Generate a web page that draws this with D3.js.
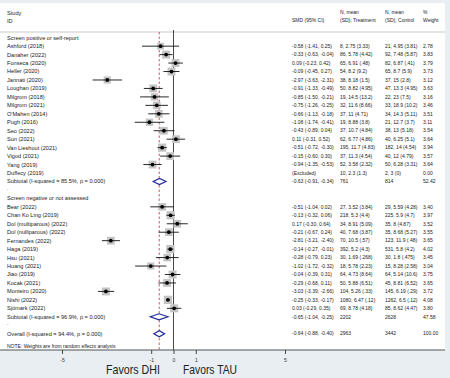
<!DOCTYPE html>
<html>
<head>
<meta charset="utf-8">
<script src="https://cdn.jsdelivr.net/npm/d3@7"></script>
<style>
  body { margin: 0; background: #e8eef1; }
  svg { display: block; font-family: "Liberation Sans", Arial, sans-serif; }
</style>
</head>
<body>
<svg id="chart"></svg>
<script>
var groupNames = ["Screen positive or self-report", "Screen negative or not assessed"];

var studyNames = [
  "Ashford (2018)", "Danaher (2022)", "Fonseca (2020)", "Heller (2020)", "Jannati (2020)",
  "Loughan (2019)", "Milgrom (2018)", "Milgrom (2021)", "O'Mahen (2014)", "Pugh (2016)",
  "Seo (2022)", "Sun (2021)", "Van Lieshout (2021)", "Vigod (2021)", "Yang (2019)", "Duffecy (2019)",
  "Bear (2022)", "Chan Ko Ling (2019)", "Dol (multiparous) (2022)", "Dol (nulliparous) (2022)",
  "Fernandes (2022)", "Haga (2019)", "Hsu (2021)", "Huang (2021)", "Jiao (2019)", "Kocak (2021)",
  "Monteiro (2020)", "Nishi (2022)", "Sjömark (2022)"
];
var studyGroup = [0,0,0,0,0,0,0,0,0,0,0,0,0,0,0,0, 1,1,1,1,1,1,1,1,1,1,1,1,1];

var smd    = [-0.58, -0.33, 0.09, -0.09, -2.97, -0.91, -0.85, -0.75, -0.66, -1.08, -0.43, 0.11, -0.51, -0.15, -0.94, null,
              -0.51, -0.13, 0.17, -0.21, -2.81, -0.14, -0.28, -1.02, -0.04, -0.29, -3.03, -0.25, 0.03];
var ciLow  = [-1.41, -0.63, -0.23, -0.45, -3.63, -1.33, -1.50, -1.26, -1.13, -1.74, -0.89, -0.31, -0.72, -0.60, -1.35, null,
              -1.04, -0.32, -0.30, -0.67, -3.21, -0.27, -0.79, -1.72, -0.39, -0.68, -3.39, -0.33, -0.29];
var ciHigh = [0.25, -0.04, 0.42, 0.27, -2.31, -0.49, -0.21, -0.25, -0.18, -0.41, 0.04, 0.52, -0.30, 0.30, -0.53, null,
              0.02, 0.06, 0.64, 0.24, -2.40, -0.01, 0.23, -0.32, 0.31, 0.11, -2.66, -0.17, 0.35];

var treatment = ["8, 2.75 (3.33)", "86, 5.78 (4.42)", "65, 6.91 (.48)", "54, 8.2 (9.2)", "38, 8.18 (1.5)",
  "50, 8.82 (4.95)", "19, 14.5 (13.2)", "32, 11.6 (8.66)", "37, 11 (4.71)", "19, 8.88 (3.8)",
  "37, 10.7 (4.84)", "62, 6.77 (4.86)", "195, 11.7 (4.83)", "37, 11.3 (4.54)", "52, 3.58 (2.32)", "10, 2.3 (1.3)",
  "27, 3.52 (3.84)", "218, 5.3 (4.4)", "34, 8.91 (5.09)", "40, 7.68 (3.87)", "70, 10.5 (.57)",
  "392, 5.2 (4.3)", "30, 1.69 (.268)", "18, 5.78 (2.23)", "64, 4.73 (8.64)", "50, 5.88 (6.51)",
  "104, 5.26 (.33)", "1080, 6.47 (.12)", "69, 8.78 (4.18)"];
var control = ["21, 4.95 (3.81)", "92, 7.48 (5.87)", "82, 6.87 (.41)", "65, 8.7 (5.9)", "37, 15 (2.8)",
  "47, 13.3 (4.95)", "22, 23 (7.5)", "33, 18.9 (10.2)", "34, 14.3 (5.11)", "21, 12.7 (3.7)",
  "38, 13 (5.18)", "40, 6.25 (5.1)", "182, 14 (4.54)", "40, 12 (4.79)", "50, 6.28 (3.31)", "2, 3 (0)",
  "29, 5.59 (4.28)", "225, 5.9 (4.7)", "35, 8 (4.87)", "35, 8.68 (5.27)", "123, 11.9 (.48)",
  "531, 5.8 (4.2)", "30, 1.8 (.475)", "15, 8.28 (2.58)", "64, 5.14 (10.6)", "45, 8.81 (6.52)",
  "145, 6.19 (.29)", "1262, 6.5 (.12)", "85, 8.62 (4.47)"];
var weight = [2.78, 3.83, 3.79, 3.73, 3.12, 3.63, 3.16, 3.46, 3.51, 3.11, 3.54, 3.64, 3.94, 3.57, 3.64, 0.00,
              3.40, 3.97, 3.52, 3.55, 3.65, 4.02, 3.45, 3.04, 3.75, 3.65, 3.72, 4.08, 3.80];

var summaryLabels = ["Subtotal  (I-squared = 85.5%, p = 0.000)", "Subtotal  (I-squared = 96.9%, p = 0.000)", "Overall  (I-squared = 94.4%, p = 0.000)"];
var summarySmd  = [-0.63, -0.65, -0.64];
var summaryLow  = [-0.91, -1.04, -0.88];
var summaryHigh = [-0.34, -0.25, -0.40];
var summaryTreat = ["761", "2202", "2963"];
var summaryCtrl  = ["814", "2628", "3442"];
var summaryWt    = [52.42, 47.58, 100.00];

var xTicks = [-5, -1, 0, 1, 5];

var W = 450, H = 378;
var fsLabel = 5.6, fsNum = 5;

//Build row list: group header, studies, subtotal, blank ... overall
var rows = [];
groupNames.forEach(function(g, gi){
  rows.push({type: "head", label: g});
  studyNames.forEach(function(n, i){
    if(studyGroup[i] === gi) rows.push({type: "study", i: i});
  });
  rows.push({type: "sum", i: gi});
  rows.push({type: "blank"});
});
rows.push({type: "sum", i: 2});

var x = d3.scaleLinear().domain([-5, 5]).range([62, 285]);
var y = d3.scaleLinear().domain([0, 35]).range([37.7, 333.7]);

var svg = d3.select("#chart").attr("width", W).attr("height", H);

//Card
svg.append("rect").attr("x", 0).attr("y", 3).attr("width", 445).attr("height", 347).attr("fill", "#fff");

function fmt(v){ return v.toFixed(2); }
function ciText(s, l, h){ return fmt(s) + " (" + fmt(l) + ", " + fmt(h) + ")"; }

var txt = svg.append("g").attr("fill", "#222").style("white-space", "pre");

var cols = {label: 7, smd: 292, treat: 340, ctrl: 385, wt: 423};
function put(xp, yp, s, size){
  txt.append("text").attr("x", xp).attr("y", yp).attr("dy", "0.35em")
    .attr("font-size", size || fsLabel).text(s);
}

//Headers
put(cols.label, 12.7, "Study");
put(cols.label, 20.7, "ID");
put(cols.smd, 20.7, "SMD (95% CI)", fsNum);
put(cols.treat, 12.7, "N, mean", fsNum);
put(cols.treat, 20.7, "(SD); Treatment", fsNum);
put(cols.ctrl, 12.7, "N, mean", fsNum);
put(cols.ctrl, 20.7, "(SD); Control", fsNum);
put(cols.wt, 12.7, "%", fsNum);
put(cols.wt, 20.7, "Weight", fsNum);

svg.append("line").attr("x1", 0).attr("x2", 445).attr("y1", 32).attr("y2", 32)
  .attr("stroke", "#bbb").attr("stroke-width", 0.8);

//Reference lines
svg.append("line").attr("x1", x(0)).attr("x2", x(0)).attr("y1", 30).attr("y2", 350)
  .attr("stroke", "#333").attr("stroke-width", 0.9);
svg.append("line").attr("x1", x(summarySmd[2])).attr("x2", x(summarySmd[2])).attr("y1", 32).attr("y2", 350)
  .attr("stroke", "#b03a3a").attr("stroke-width", 0.8).attr("stroke-dasharray", "2.5,2");

var marks = svg.append("g");

rows.forEach(function(r, k){
  var yy = y(k);
  if(r.type === "head"){
    put(cols.label, yy, r.label);
  }
  else if(r.type === "blank"){
    put(cols.label, yy - 2, ".");
  }
  else if(r.type === "study"){
    var i = r.i;
    put(cols.label, yy, studyNames[i]);
    put(cols.treat, yy, treatment[i], fsNum);
    put(cols.ctrl, yy, control[i], fsNum);
    put(cols.wt, yy, fmt(weight[i]), fsNum);
    if(smd[i] === null){
      put(cols.smd, yy, "(Excluded)", fsNum);
      return;
    }
    put(cols.smd, yy, ciText(smd[i], ciLow[i], ciHigh[i]), fsNum);
    var side = 4.1 * Math.sqrt(weight[i]);
    marks.append("rect")
      .attr("x", x(smd[i]) - side / 2).attr("y", yy - side / 2)
      .attr("width", side).attr("height", side)
      .attr("fill", "#c4c4c4");
    marks.append("line")
      .attr("x1", x(ciLow[i])).attr("x2", x(ciHigh[i]))
      .attr("y1", yy).attr("y2", yy)
      .attr("stroke", "#111").attr("stroke-width", 0.9);
    marks.append("circle").attr("cx", x(smd[i])).attr("cy", yy).attr("r", 1.9).attr("fill", "#000");
  }
  else if(r.type === "sum"){
    var j = r.i;
    put(cols.label, yy, summaryLabels[j]);
    put(cols.smd, yy, ciText(summarySmd[j], summaryLow[j], summaryHigh[j]), fsNum);
    put(cols.treat, yy, summaryTreat[j], fsNum);
    put(cols.ctrl, yy, summaryCtrl[j], fsNum);
    put(cols.wt, yy, fmt(summaryWt[j]), fsNum);
    var pts = [[x(summaryLow[j]), yy], [x(summarySmd[j]), yy - 3], [x(summaryHigh[j]), yy], [x(summarySmd[j]), yy + 3]];
    marks.append("path")
      .attr("d", "M" + pts.join("L") + "Z")
      .attr("fill", "#fff").attr("stroke", "#1f2a96").attr("stroke-width", 1.2);
  }
});

put(cols.label, 346.3, "NOTE: Weights are from random effects analysis", fsNum);

//Axis along the bottom of the card
svg.append("line").attr("x1", 0).attr("x2", 445).attr("y1", 350).attr("y2", 350)
  .attr("stroke", "#555").attr("stroke-width", 1.2);

var axis = svg.append("g")
  .attr("transform", "translate(0,350)")
  .call(d3.axisBottom(x).tickValues(xTicks).tickSize(4).tickFormat(function(d){ return String(d); }));
axis.select(".domain").remove();
axis.selectAll("line").attr("stroke", "#444");
axis.selectAll("text").attr("font-size", 5).attr("fill", "#333").attr("y", 8);

//Favors labels
svg.append("text").attr("x", 106).attr("y", 373.5).attr("font-size", 13).attr("fill", "#222")
  .attr("textLength", 54).attr("lengthAdjust", "spacingAndGlyphs").text("Favors DHI");
svg.append("text").attr("x", 183).attr("y", 373.5).attr("font-size", 13).attr("fill", "#222")
  .attr("textLength", 54).attr("lengthAdjust", "spacingAndGlyphs").text("Favors TAU");
</script>
</body>
</html>
